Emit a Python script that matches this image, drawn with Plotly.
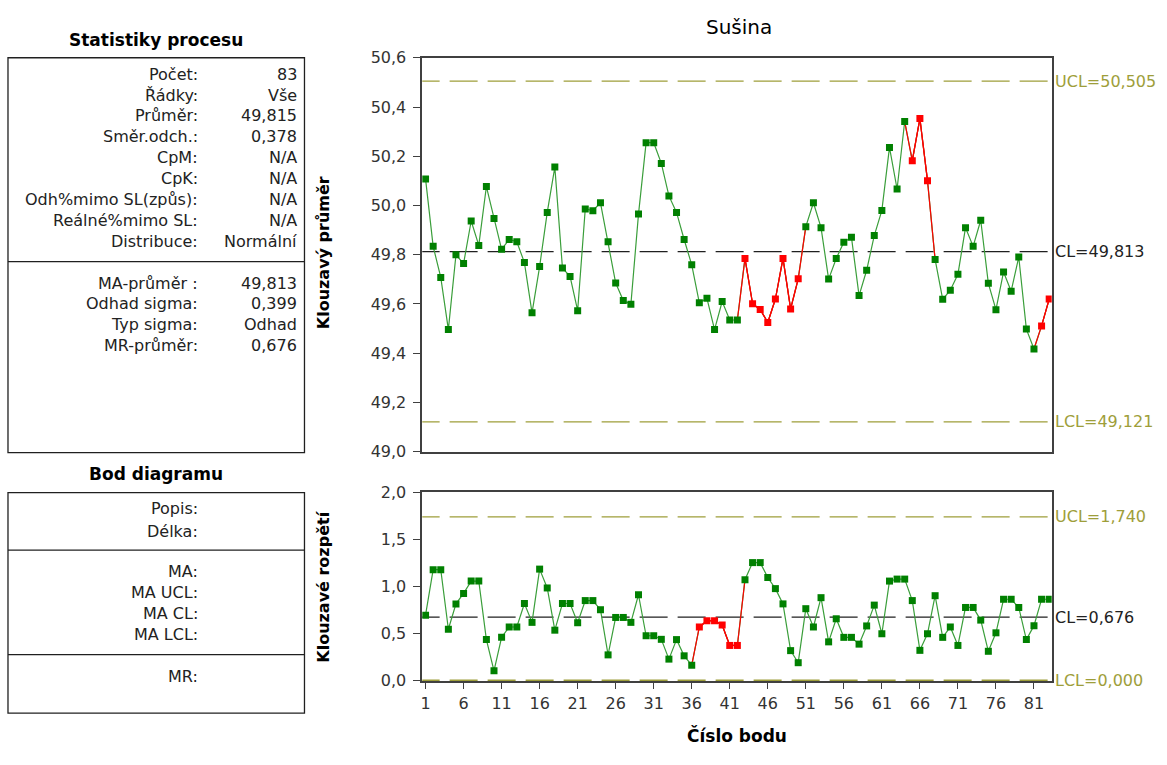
import plotly.graph_objects as go

# ---- data -------------------------------------------------------------
points = list(range(1, 84))

moving_avg = [50.108, 49.834, 49.708, 49.496, 49.800, 49.764, 49.937, 49.838, 50.077, 49.947,
              49.822, 49.862, 49.853, 49.768, 49.564, 49.752, 49.972, 50.156, 49.746, 49.712,
              49.573, 49.986, 49.979, 50.011, 49.853, 49.685, 49.614, 49.599, 49.965, 50.255,
              50.255, 50.171, 50.039, 49.972, 49.862, 49.759, 49.605, 49.623, 49.496, 49.610,
              49.535, 49.535, 49.785, 49.601, 49.578, 49.525, 49.620, 49.785, 49.580, 49.702,
              49.914, 50.011, 49.910, 49.701, 49.785, 49.851, 49.871, 49.634, 49.737, 49.878,
              49.980, 50.236, 50.067, 50.341, 50.182, 50.353, 50.101, 49.781, 49.619, 49.656,
              49.721, 49.910, 49.834, 49.940, 49.684, 49.577, 49.730, 49.652, 49.791, 49.498,
              49.417, 49.511, 49.620]

moving_range = [0.697, 1.180, 1.180, 0.548, 0.817, 0.928, 1.059, 1.059, 0.438, 0.107,
                0.462, 0.572, 0.572, 0.821, 0.621, 1.186, 0.986, 0.538, 0.821, 0.821,
                0.617, 0.852, 0.852, 0.755, 0.276, 0.673, 0.673, 0.621, 0.914, 0.479,
                0.479, 0.441, 0.231, 0.438, 0.266, 0.166, 0.572, 0.638, 0.638, 0.593,
                0.376, 0.376, 1.073, 1.255, 1.255, 1.097, 0.979, 0.817, 0.321, 0.193,
                0.766, 0.572, 0.883, 0.414, 0.659, 0.462, 0.462, 0.390, 0.583, 0.804,
                0.500, 1.059, 1.080, 1.080, 0.852, 0.324, 0.500, 0.904, 0.462, 0.572,
                0.376, 0.779, 0.779, 0.645, 0.314, 0.510, 0.866, 0.866, 0.779, 0.438,
                0.586, 0.866, 0.866]

# points flagged by run rules
ma_flagged = [43, 44, 45, 46, 47, 48, 49, 50, 65, 66, 67, 82, 83]
mr_flagged = [37, 38, 39, 40, 41, 42]

ma_ucl, ma_cl, ma_lcl = 50.505, 49.813, 49.121
mr_ucl, mr_cl, mr_lcl = 1.740, 0.676, 0.000

ma_ticks = [49.0, 49.2, 49.4, 49.6, 49.8, 50.0, 50.2, 50.4, 50.6]
mr_ticks = [0.0, 0.5, 1.0, 1.5, 2.0]
x_ticks = [1, 6, 11, 16, 21, 26, 31, 36, 41, 46, 51, 56, 61, 66, 71, 76, 81]

stats_labels = ["Počet:", "Řádky:", "Průměr:", "Směr.odch.:", "CpM:", "CpK:",
                "Odh%mimo SL(způs):", "Reálné%mimo SL:", "Distribuce:"]
stats_values = ["83", "Vše", "49,815", "0,378", "N/A", "N/A", "N/A", "N/A", "Normální"]
ma_stats_labels = ["MA-průměr :", "Odhad sigma:", "Typ sigma:", "MR-průměr:"]
ma_stats_values = ["49,813", "0,399", "Odhad", "0,676"]
point_labels_a = ["Popis:", "Délka:"]
point_labels_b = ["MA:", "MA UCL:", "MA CL:", "MA LCL:"]
point_labels_c = ["MR:"]

# ---- styling ----------------------------------------------------------
W, H = 1167, 765
FONT = "DejaVu Sans, Arial, sans-serif"
GREEN = "#008000"
GREEN_LINE = "#3a9e3a"
RED = "#ff0000"
OLIVE = "#9e9e3a"
AXIS = "#404040"
X_RANGE = [0.57, 83.33]


def px(x):
    return x / W


def py(y):
    return 1 - y / H


def comma(v, nd):
    return f"{v:.{nd}f}".replace(".", ",")


fig = go.Figure()


def add_series(values, flagged, xa, ya):
    xs, ys = points, values
    fig.add_trace(go.Scatter(x=xs, y=ys, mode="lines", xaxis=xa, yaxis=ya,
                             line=dict(color=GREEN_LINE, width=1.2),
                             hoverinfo="skip", showlegend=False))
    # red segments adjacent to flagged points
    rx, ry = [], []
    for p in flagged:
        i = p - 1
        if i > 0:
            rx += [xs[i - 1], xs[i], None]
            ry += [ys[i - 1], ys[i], None]
        if i < len(xs) - 1:
            rx += [xs[i], xs[i + 1], None]
            ry += [ys[i], ys[i + 1], None]
    fig.add_trace(go.Scatter(x=rx, y=ry, mode="lines", xaxis=xa, yaxis=ya,
                             line=dict(color=RED, width=1.2),
                             hoverinfo="skip", showlegend=False))
    colors = [RED if p in flagged else GREEN for p in xs]
    fig.add_trace(go.Scatter(x=xs, y=ys, mode="markers", xaxis=xa, yaxis=ya,
                             marker=dict(symbol="square", size=7, color=colors,
                                         line=dict(width=0)),
                             showlegend=False))


def add_limit(value, color, xa, ya, dash="28px,10px", width=1.2):
    # start a little left of the frame so the dash phase lines up
    fig.add_trace(go.Scatter(x=[X_RANGE[0] - 1.4, X_RANGE[1]], y=[value, value],
                             mode="lines", xaxis=xa, yaxis=ya,
                             line=dict(color=color, width=width, dash=dash),
                             hoverinfo="skip", showlegend=False))


add_limit(ma_ucl, OLIVE, "x", "y")
add_limit(ma_cl, "#202020", "x", "y")
add_limit(ma_lcl, OLIVE, "x", "y")
add_limit(mr_ucl, OLIVE, "x2", "y2")
add_limit(mr_cl, "#202020", "x2", "y2")
add_limit(mr_lcl, OLIVE, "x2", "y2", width=3)

add_series(moving_avg, ma_flagged, "x", "y")
add_series(moving_range, mr_flagged, "x2", "y2")

x_dom = [px(421), px(1051.5)]
axis_common = dict(showline=True, mirror=True, linecolor=AXIS, linewidth=1.6,
                   showgrid=False, zeroline=False)
tick_font = dict(size=16, color="#333333", family=FONT)

fig.update_layout(
    width=W, height=H,
    margin=dict(l=0, r=0, t=0, b=0),
    paper_bgcolor="white", plot_bgcolor="white",
    font=dict(family=FONT, size=16, color="#222222"),
    separators=", ",
    showlegend=False,
    xaxis=dict(domain=x_dom, anchor="y", range=X_RANGE, showticklabels=False,
               ticks="", **axis_common),
    yaxis=dict(domain=[py(454), py(50)], anchor="x", range=[49.0, 50.6],
               tickvals=ma_ticks, ticktext=[comma(v, 1) for v in ma_ticks],
               ticks="outside", ticklen=7, tickcolor=AXIS, ticklabelstandoff=4,
               tickfont=tick_font, **axis_common),
    xaxis2=dict(domain=x_dom, anchor="y2", range=X_RANGE, tickvals=x_ticks,
                ticks="outside", ticklen=6, tickcolor=AXIS, ticklabelstandoff=1,
                tickfont=tick_font, layer="below traces", **axis_common),
    yaxis2=dict(domain=[py(689), py(495.7)], anchor="x2", range=[0.0, 2.0],
                tickvals=mr_ticks, ticktext=[comma(v, 1) for v in mr_ticks],
                ticks="outside", ticklen=7, tickcolor=AXIS, ticklabelstandoff=4,
                tickfont=tick_font, layer="below traces", **axis_common),
)

ann = []


def text(x, y, s, size=16, xanchor="right", color="#222222", weight="normal", **kw):
    ann.append(dict(x=px(x), y=py(y), xref="paper", yref="paper", text=s,
                    showarrow=False, xanchor=xanchor, yanchor="middle",
                    font=dict(size=size, color=color, family=FONT, weight=weight), **kw))


# chart titles
text(738, 18, "Sušina", size=20, xanchor="center", color="#000000")
text(736, 745, "Číslo bodu", size=17, xanchor="center", color="#000000", weight="bold")
text(322, 250, "Klouzavý průměr", size=16, xanchor="center", color="#000000",
     weight="bold", textangle=-90)
text(322, 592, "Klouzavé rozpětí", size=16, xanchor="center", color="#000000",
     weight="bold", textangle=-90)

# limit labels on the right
for val, lab, col, ya in [(ma_ucl, "UCL", OLIVE, "y"), (ma_cl, "CL", "#222222", "y"),
                          (ma_lcl, "LCL", OLIVE, "y"), (mr_ucl, "UCL", OLIVE, "y2"),
                          (mr_cl, "CL", "#222222", "y2"), (mr_lcl, "LCL", OLIVE, "y2")]:
    ann.append(dict(x=px(1053), y=val, xref="paper", yref=ya,
                    text=f"{lab}={comma(val, 3)}", showarrow=False,
                    xanchor="left", yanchor="middle",
                    font=dict(size=16, color=col, family=FONT)))

# left panel: process statistics
text(154, 32, "Statistiky procesu", size=17, xanchor="center", color="#000000",
     weight="bold")
row0, step = 66.7, 21.5
for i, (lab, val) in enumerate(zip(stats_labels, stats_values)):
    text(198, row0 + i * step, lab)
    text(298, row0 + i * step, val)
row1 = 281
for i, (lab, val) in enumerate(zip(ma_stats_labels, ma_stats_values)):
    text(198, row1 + i * step, lab)
    text(298, row1 + i * step, val)

# left panel: chart point
text(154, 477, "Bod diagramu", size=17, xanchor="center", color="#000000",
     weight="bold")
for i, lab in enumerate(point_labels_a):
    text(198, 512.7 + i * 23, lab)
for i, lab in enumerate(point_labels_b):
    text(198, 576.7 + i * 21.5, lab)
for i, lab in enumerate(point_labels_c):
    text(198, 684, lab)

fig.update_layout(annotations=ann)

shapes = []
for (y0, y1) in [(50, 455), (496, 722)]:
    shapes.append(dict(type="rect", xref="paper", yref="paper", x0=px(6), x1=px(303),
                       y0=py(y1), y1=py(y0), line=dict(color="#202020", width=1.3)))
for yd in [259, 555, 662]:
    shapes.append(dict(type="line", xref="paper", yref="paper", x0=px(6), x1=px(303),
                       y0=py(yd), y1=py(yd), line=dict(color="#202020", width=1.3)))
fig.update_layout(shapes=shapes)

fig.write_html("out.html")
